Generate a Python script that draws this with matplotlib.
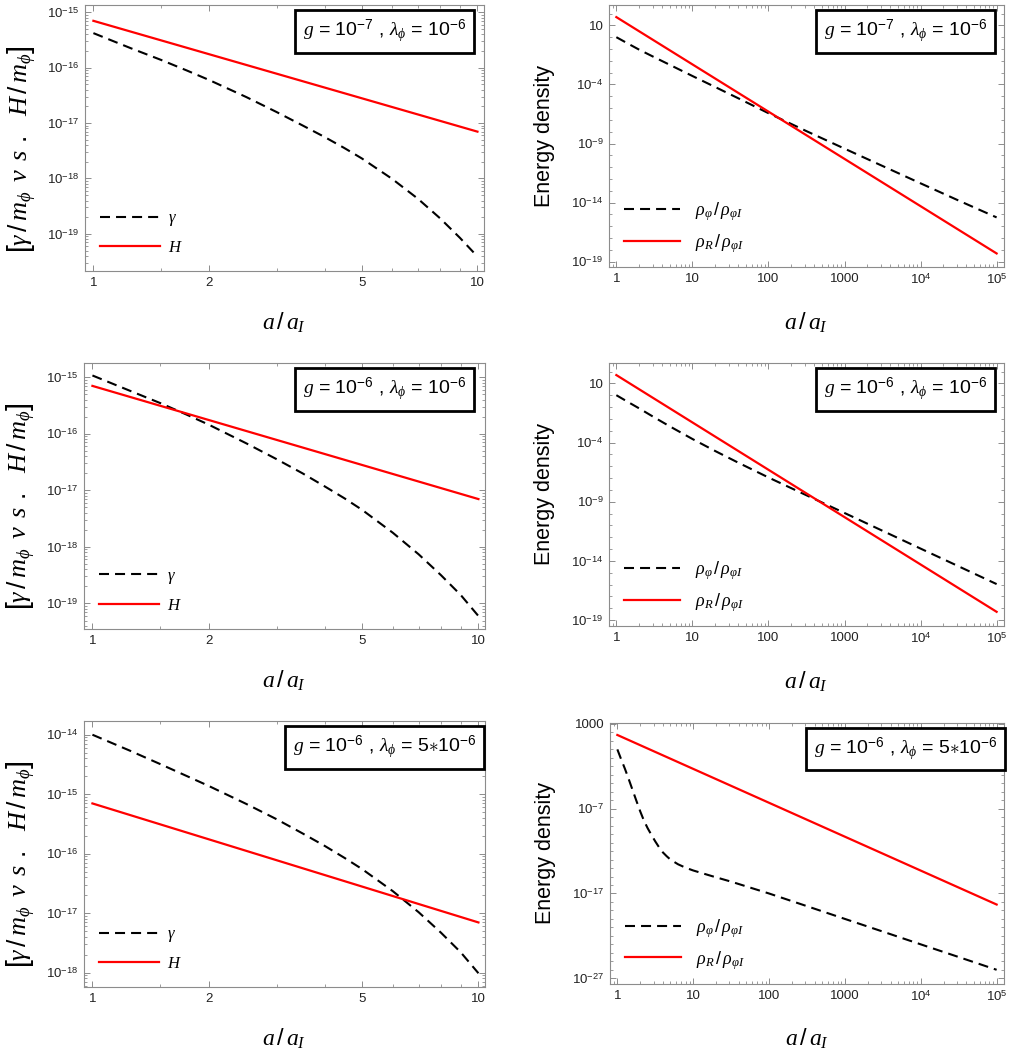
import numpy as np
import matplotlib
matplotlib.use('Agg')
import matplotlib.pyplot as plt
from matplotlib.ticker import FixedLocator, FixedFormatter, NullFormatter, LogLocator

plt.rcParams['font.family'] = ['Liberation Sans', 'DejaVu Sans']
plt.rcParams['mathtext.fontset'] = 'custom'
plt.rcParams['mathtext.rm'] = 'Liberation Sans'
plt.rcParams['mathtext.it'] = 'Liberation Serif:italic'
plt.rcParams['mathtext.bf'] = 'Liberation Sans:bold'
plt.rcParams['mathtext.sf'] = 'Liberation Sans'

# ---- left column: gamma/m_phi and H/m_phi against a/a_I ----
a_left = [1, 1.25, 1.5, 1.75, 2, 2.5, 3, 3.5, 4, 4.5, 5, 6, 7, 8, 9, 10]
gamma_1 = [4.2e-16, 2.25e-16, 1.38e-16, 8.9e-17, 6.0e-17, 2.95e-17, 1.58e-17, 9.1e-18,
           5.6e-18, 3.55e-18, 2.3e-18, 9.8e-19, 4.3e-19, 1.9e-19, 8.5e-20, 3.9e-20]
gamma_2 = [1.07e-15, 5.75e-16, 3.47e-16, 2.19e-16, 1.45e-16, 6.8e-17, 3.55e-17, 2.0e-17,
           1.17e-17, 7.2e-18, 4.5e-18, 1.78e-18, 7.4e-19, 3.16e-19, 1.41e-19, 6.0e-20]
gamma_3 = [1.0e-14, 5.4e-15, 3.2e-15, 2.04e-15, 1.38e-15, 6.9e-16, 3.8e-16, 2.2e-16,
           1.35e-16, 8.5e-17, 5.5e-17, 2.35e-17, 1.04e-17, 4.7e-18, 2.2e-18, 9.8e-19]
a_hub = [1, 2, 5, 10]
hubble = [7e-16, 1.75e-16, 2.8e-17, 7e-18]

# ---- right column: energy densities ----
a_right = [1, 1.41, 2, 3.16, 5, 10, 20, 40, 100, 316, 1000, 3162, 1e4, 31623, 1e5]
rho_phi_1 = [1, 0.295, 0.087, 0.02, 4.7e-3, 5.2e-4, 6.0e-5, 6.8e-6, 3.7e-7, 1.12e-8,
             3.7e-10, 1.26e-11, 4.3e-13, 1.5e-14, 5.6e-16]
rho_phi_2 = [1, 0.275, 0.076, 0.0132, 2.4e-3, 2.0e-4, 1.9e-5, 2.0e-6, 1.12e-7, 3.5e-9,
             1.12e-10, 3.5e-12, 1.1e-13, 3.5e-15, 1.1e-16]
a_br = [1, 1.12, 1.26, 1.41, 1.58, 1.78, 2.0, 2.24, 2.51, 2.82, 3.16, 3.55, 3.98, 4.47,
        5.01, 6.31, 7.94, 10, 17.8, 31.6, 56.2, 100, 316, 1000, 3162, 1e4, 31623, 1e5]
rho_phi_3 = [1, 0.071, 5.0e-3, 3.2e-4, 1.8e-5, 8.9e-7, 5.0e-8, 4.0e-9, 5.0e-10, 7.9e-11,
             1.4e-11, 2.8e-12, 7.1e-13, 2.5e-13, 1.0e-13, 2.8e-14, 1.1e-14, 5.2e-15,
             1.1e-15, 2.5e-16, 5.0e-17, 1.0e-17, 3.2e-19, 1e-20, 3.2e-22, 1e-23, 3.2e-25, 1e-26]
a_rad = [1, 10, 100, 1000, 1e4, 1e5]
rho_rad = [50, 5e-3, 5e-7, 5e-11, 5e-15, 5e-19]

boxes = [r'$g$ = 10$^{-7}$ , $\lambda_{\phi}$ = 10$^{-6}$',
         r'$g$ = 10$^{-6}$ , $\lambda_{\phi}$ = 10$^{-6}$',
         r'$g$ = 10$^{-6}$ , $\lambda_{\phi}$ = 5$\ast$10$^{-6}$']

frame_col = '#8c8c8c'
txt_col = '#222222'
dash = (0, (4.8, 2.9))

fig = plt.figure(figsize=(10.17, 10.5), dpi=100)

left_pos = [[0.0836, 0.7419, 0.3923, 0.2533],
            [0.0826, 0.4010, 0.3943, 0.2533],
            [0.0826, 0.0600, 0.3943, 0.2533]]
right_pos = [[0.5988, 0.7457, 0.3884, 0.2495],
             [0.5988, 0.4038, 0.3884, 0.2505],
             [0.5998, 0.0629, 0.3874, 0.2486]]
left_ylim = [(10**-19.67, 10**-14.87), (10**-19.45, 10**-14.75), (10**-18.24, 10**-13.77)]
right_ylim = [(10**-19.45, 10**2.72), (10**-19.5, 10**2.72), (10**-27.67, 10**3.12)]
gammas = [gamma_1, gamma_2, gamma_3]


def frame(ax):
    for s in ax.spines.values():
        s.set_color(frame_col)
        s.set_linewidth(0.8)
    ax.tick_params(which='both', direction='in', top=True, right=True,
                   color=frame_col, labelcolor=txt_col, labelsize=9.5)
    ax.tick_params(which='major', length=4, width=0.7, pad=4)
    ax.tick_params(which='minor', length=2.2, width=0.6)


def add_box(ax, s):
    ax.text(0.75, 0.90, s, transform=ax.transAxes, ha='center', va='center', fontsize=14,
            bbox=dict(boxstyle='square,pad=0.4', fc='white', ec='black', lw=2))


for i in range(3):
    # left panel
    ax = fig.add_axes(left_pos[i])
    ax.set_xscale('log')
    ax.set_yscale('log')
    ax.plot(a_left, gammas[i], color='black', lw=1.5, ls=dash, label=r'$\gamma$')
    ax.plot(a_hub, hubble, color='red', lw=1.6, label=r'$H$')
    ax.set_xlim(0.951, 10.4)
    ax.set_ylim(*left_ylim[i])
    ax.xaxis.set_major_locator(FixedLocator([1, 2, 5, 10]))
    ax.xaxis.set_major_formatter(FixedFormatter(['1', '2', '5', '10']))
    ax.xaxis.set_minor_locator(FixedLocator([1.5, 3, 4, 6, 7, 8, 9]))
    ax.xaxis.set_minor_formatter(NullFormatter())
    lo, hi = np.ceil(np.log10(left_ylim[i][0])), np.floor(np.log10(left_ylim[i][1]))
    dec = np.arange(lo, hi + 1)
    ax.yaxis.set_major_locator(FixedLocator(10.0 ** dec))
    ax.yaxis.set_major_formatter(FixedFormatter([r'$10^{%d}$' % d for d in dec]))
    ax.yaxis.set_minor_locator(LogLocator(base=10, subs=np.arange(2, 10), numticks=30))
    ax.yaxis.set_minor_formatter(NullFormatter())
    frame(ax)
    ax.set_xlabel(r'$a\,/\,a_{I}$', fontsize=17)
    ax.xaxis.set_label_coords(0.5, -0.15)
    ax.set_ylabel(r'$\left[\gamma\,/\,m_{\phi}\;\; v\;\,s\;\,.\;\;\; H\,/\,m_{\phi}\right]$',
                  fontsize=19)
    ax.yaxis.set_label_coords(-0.118, 0.46)
    ax.legend(loc='lower left', bbox_to_anchor=(0.02, 0.035), frameon=False, fontsize=12,
              handlelength=3.6, handletextpad=0.5, labelspacing=0.7, borderaxespad=0)
    add_box(ax, boxes[i])

    # right panel
    ax = fig.add_axes(right_pos[i])
    ax.set_xscale('log')
    ax.set_yscale('log')
    rho = [rho_phi_1, rho_phi_2, rho_phi_3][i]
    ax.plot(a_br if i == 2 else a_right, rho, color='black', lw=1.5, ls=dash,
            label=r'$\rho_{\varphi}\,/\,\rho_{\varphi I}$')
    ax.plot(a_rad, rho_rad, color='red', lw=1.6, label=r'$\rho_{R}\,/\,\rho_{\varphi I}$')
    ax.set_xlim(0.80, 1.25e5)
    ax.set_ylim(*right_ylim[i])
    ax.xaxis.set_major_locator(FixedLocator([1, 10, 100, 1000, 1e4, 1e5]))
    ax.xaxis.set_major_formatter(FixedFormatter(['1', '10', '100', '1000', r'$10^{4}$', r'$10^{5}$']))
    ax.xaxis.set_minor_locator(LogLocator(base=10, subs=np.arange(2, 10), numticks=30))
    ax.xaxis.set_minor_formatter(NullFormatter())
    if i < 2:
        ymaj = [1, -4, -9, -14, -19]
        ylab = ['10', r'$10^{-4}$', r'$10^{-9}$', r'$10^{-14}$', r'$10^{-19}$']
        ymin = np.arange(-19, 3)
    else:
        ymaj = [3, -7, -17, -27]
        ylab = ['1000', r'$10^{-7}$', r'$10^{-17}$', r'$10^{-27}$']
        ymin = np.arange(-27, 4)
    ax.yaxis.set_major_locator(FixedLocator(10.0 ** np.array(ymaj)))
    ax.yaxis.set_major_formatter(FixedFormatter(ylab))
    ax.yaxis.set_minor_locator(FixedLocator(10.0 ** ymin))
    ax.yaxis.set_minor_formatter(NullFormatter())
    frame(ax)
    ax.set_xlabel(r'$a\,/\,a_{I}$', fontsize=17)
    ax.xaxis.set_label_coords(0.5, -0.165)
    ax.set_ylabel('Energy density', fontsize=15.5)
    ax.yaxis.set_label_coords(-0.137, 0.5)
    ax.legend(loc='lower left', bbox_to_anchor=(0.02, 0.02), frameon=False, fontsize=13,
              handlelength=3.1, handletextpad=0.8, labelspacing=0.5, borderaxespad=0)
    add_box(ax, boxes[i])

fig.savefig('out.png', dpi=100)
